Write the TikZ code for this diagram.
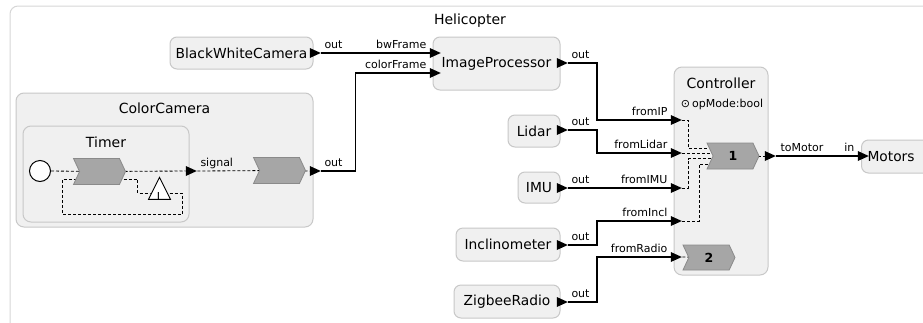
\documentclass[tikz,border=0pt]{standalone}
\usepackage{fontspec}
\setmainfont{DejaVu Sans}
\usetikzlibrary{shapes.geometric,shapes.symbols,calc}
\definecolor{boxfill}{HTML}{F0F0F0}
\definecolor{boxdraw}{HTML}{C8C8C8}
\definecolor{outerdraw}{HTML}{D6D6D6}
\definecolor{chevfill}{HTML}{A6A6A6}
\definecolor{chevdraw}{HTML}{8A8A8A}
\pgfdeclarelayer{boxes}
\pgfdeclarelayer{wires}
\pgfsetlayers{boxes,wires,main}
\begin{document}
\begin{tikzpicture}[x=1pt,y=-1pt,
  comp/.style={draw=boxdraw, fill=boxfill, rounded corners=7, line width=1pt, inner sep=0, font=\fontsize{13.8}{16}\selectfont},
  cont/.style={draw=boxdraw, fill=boxfill, rounded corners=8, line width=1pt, inner sep=0},
  title/.style={inner sep=0, font=\fontsize{14}{16}\selectfont},
  port/.style={isosceles triangle, isosceles triangle stretches, minimum width=10, minimum height=11, inner sep=0, fill=black, draw=none},
  chev/.style={signal, signal to=east, signal from=west, signal pointer angle=130, minimum width=52, minimum height=26, inner sep=0, fill=chevfill, draw=chevdraw, line width=0.8pt, font=\fontsize{12.5}{14}\selectfont\bfseries},
  plab/.style={inner sep=0, font=\fontsize{11}{13}\selectfont},
  conn/.style={line width=1.05pt, draw=black},
  dline/.style={line width=0.85pt, dash pattern=on 3pt off 2pt, draw=black},
]
\useasboundingbox (0,0) rectangle (923,322);
\clip (0,0) rectangle (923,322);

% containers
\begin{pgfonlayer}{boxes}
\node[draw=outerdraw, fill=white, rounded corners=8, line width=1pt, minimum width=925, minimum height=329, inner sep=0] (helo) at (472.5,170.5) {};
\node[cont, minimum width=297, minimum height=134] (cam) at (164.5,160) {};
\node[cont, minimum width=166, minimum height=96] (timer) at (106,174) {};
\node[cont, minimum width=94, minimum height=208] (ctrl) at (721,171) {};
\end{pgfonlayer}

\node[title] (heloT) at (470,21) {Helicopter};
\node[title] (camT) at (164.5,108) {ColorCamera};
\node[title] (timerT) at (106,142) {Timer};
\node[title] (ctrlT) at (721,83) {Controller};
\node[plab] (opm) at (722,104) {⊙\hspace{2pt}opMode:bool};

% components
\node[comp, minimum width=143, minimum height=32] (bwc) at (241.5,53) {BlackWhiteCamera};
\node[comp, minimum width=127, minimum height=53] (ip) at (496.5,63.5) {ImageProcessor};
\node[comp, minimum width=52, minimum height=32] (lidar) at (534,131) {Lidar};
\node[comp, minimum width=42, minimum height=31] (imu) at (539,187.5) {IMU};
\node[comp, minimum width=104, minimum height=33] (incl) at (508,244.5) {Inclinometer};
\node[comp, minimum width=106, minimum height=33] (zig) at (507,301.5) {ZigbeeRadio};
\node[comp, anchor=west, text width=58, inner xsep=6, align=left, minimum height=33] (mot) at (861,156.5) {Motors};

% timer internals
\node[circle, draw=black, fill=white, line width=1pt, minimum size=21, inner sep=0] (circ) at (40,171) {};
\node[chev] (tch) at (99.5,171.5) {};
\node[isosceles triangle, isosceles triangle stretches, shape border rotate=90, minimum width=22, minimum height=22, inner sep=0, draw=black, fill=white, line width=0.9pt] (lt) at (159.5,192.5) {};
\node[inner sep=0, font=\fontsize{11}{12}\selectfont] (ltxt) at (160,196) {L};
\node[chev] (cch) at (279.5,170.5) {};

% controller internals
\node[chev] (ch1) at (733,156) {1};
\node[chev, minimum height=25] (ch2) at (709,257.5) {2};

% ports
\node[port] (pbwc) at (313,53) {};
\node[port] (pipbw) at (433,53) {};
\node[port] (pipcol) at (433,73) {};
\node[port] (pipout) at (560,63) {};
\node[port] (psig) at (189,171) {};
\node[port] (pcam) at (313,171) {};
\node[port] (plid) at (560,130) {};
\node[port] (pimu) at (560,188) {};
\node[port] (pinc) at (560,245) {};
\node[port] (pzig) at (560,302) {};
\node[port] (pfip) at (674,120) {};
\node[port] (pflid) at (674,153) {};
\node[port] (pfimu) at (674,188) {};
\node[port] (pfinc) at (674,221) {};
\node[port] (pfrad) at (674,257) {};
\node[port] (ptom) at (768,156) {};
\node[port] (pmin) at (861,156) {};

\coordinate (bx) at (597,0);

% wires
\begin{pgfonlayer}{wires}
\draw[conn] (pbwc.east) -- (pipbw.west);
\draw[conn] (pcam.east) -- ++(34,0) |- (pipcol.west);
\draw[conn] (pipout.east) -- (bx |- pipout.east) |- (pfip.west);
\draw[conn] (plid.east) -- (bx |- plid.east) |- (pflid.west);
\draw[conn] (pimu.east) -- (pfimu.west);
\draw[conn] (pinc.east) -- (bx |- pinc.east) |- (pfinc.west);
\draw[conn] (pzig.east) -- (bx |- pzig.east) |- (pfrad.west);
\draw[conn] (ptom.east) -- (pmin.west);
% dashed
\draw[dline] (circ.east) -- (tch.center);
\draw[dline] (tch.center) -- (psig.west);
\draw[dline] ($(tch.center)+(24,7.5)$) -- ++(14,0) |- (150,193) -- (182,193) |- (62,214) |- ($(tch.center)+(-22,7.5)$);
\draw[dline] (psig.east) -- (cch.center);
\draw[dline] (cch.center) -- (pcam.west);
\draw[dline] (pfip.east) -- ++(6,0) |- ($(ch1.center)+(-20,-8)$);
\draw[dline] (pflid.east) -- ($(ch1.center)+(-20,-3)$);
\draw[dline] (pfimu.east) -- ++(6,0) |- ($(ch1.center)+(-20,2.5)$);
\draw[dline] (pfinc.east) -- ++(17,0) |- ($(ch1.center)+(-20,8)$);
\draw[dline] (pfrad.east) -- (ch2.center);
\draw[dline] (ch1.center) -- (ptom.west);
\end{pgfonlayer}

% port labels
\node[plab, anchor=base west] (lbwc) at ($(pbwc.east)+(3,-5)$) {out};
\node[plab, anchor=base east] (lbw) at ($(pipbw.west)+(-3,-5)$) {bwFrame};
\node[plab, anchor=base east] (lcol) at ($(pipcol.west)+(-3,-5)$) {colorFrame};
\node[plab, anchor=base west] (lipo) at ($(pipout.east)+(3,-5)$) {out};
\node[plab, anchor=base west] (lsig) at ($(psig.east)+(3,-5)$) {signal};
\node[plab, anchor=base west] (lcam) at ($(pcam.east)+(3,-5)$) {out};
\node[plab, anchor=base west] (llid) at ($(plid.east)+(3,-5)$) {out};
\node[plab, anchor=base west] (limu) at ($(pimu.east)+(3,-5)$) {out};
\node[plab, anchor=base west] (linc) at ($(pinc.east)+(3,-5)$) {out};
\node[plab, anchor=base west] (lzig) at ($(pzig.east)+(3,-5)$) {out};
\node[plab, anchor=base east] (lfip) at ($(pfip.west)+(-3,-5)$) {fromIP};
\node[plab, anchor=base east] (lflid) at ($(pflid.west)+(-3,-5)$) {fromLidar};
\node[plab, anchor=base east] (lfimu) at ($(pfimu.west)+(-3,-5)$) {fromIMU};
\node[plab, anchor=base east] (lfinc) at ($(pfinc.west)+(-3,-5)$) {fromIncl};
\node[plab, anchor=base east] (lfrad) at ($(pfrad.west)+(-3,-5)$) {fromRadio};
\node[plab, anchor=base west] (ltom) at ($(ptom.east)+(4,-5)$) {toMotor};
\node[plab, anchor=base east] (lmin) at ($(pmin.west)+(-3,-5)$) {in};
\end{tikzpicture}
\end{document}
